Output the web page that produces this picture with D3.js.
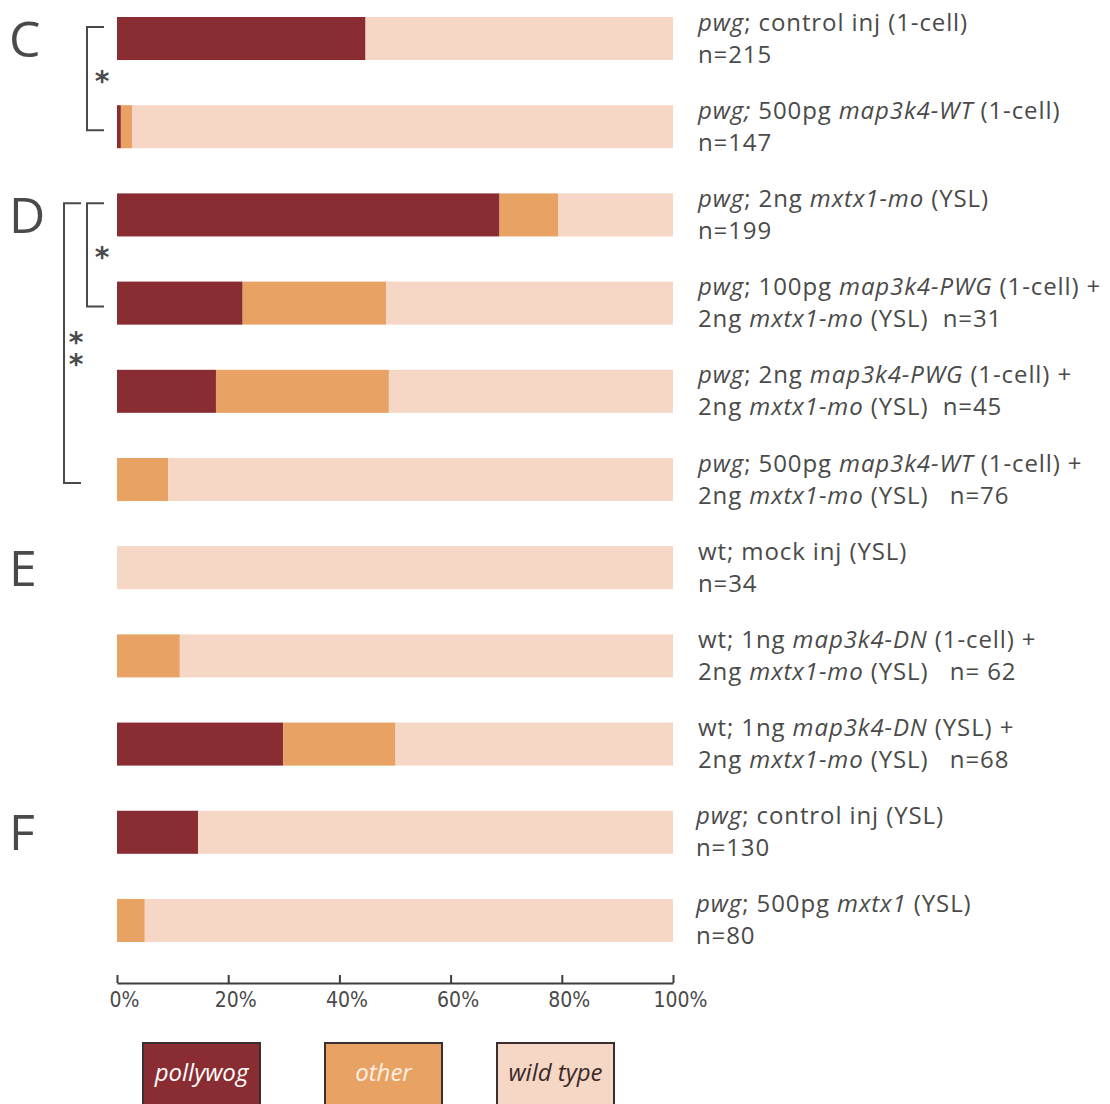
<!DOCTYPE html>
<html>
<head>
<meta charset="utf-8">
<script src="https://cdn.jsdelivr.net/npm/d3@7"></script>
<style>
  body { margin: 0; background: #fff; }
  svg text { fill: #4a4a4a; }
</style>
</head>
<body>
<svg id="chart" width="1110" height="1104"></svg>
<script>
// rows, top to bottom
const rowIds = ["C1", "C2", "D1", "D2", "D3", "D4", "E1", "E2", "E3", "F1", "F2"];

// percentages per phenotype
const pollywog = [44.7, 0.7, 68.8, 22.6, 17.8, 0, 0, 0, 29.9, 14.6, 0];
const other    = [0, 2.0, 10.6, 25.8, 31.1, 9.2, 0, 11.3, 20.2, 0, 5.0];
const wildType = [55.3, 97.3, 20.6, 51.6, 51.1, 90.8, 100, 88.7, 49.9, 85.4, 95.0];

const categories = ["pollywog", "other", "wild type"];
const colors = ["#8a2d33", "#e8a263", "#f6d6c5"];

// labels, *...* = italic
const labelLine1 = [
    "*pwg*; control inj (1-cell)",
    "*pwg;* 500pg *map3k4-WT* (1-cell)",
    "*pwg*; 2ng *mxtx1-mo* (YSL)",
    "*pwg*; 100pg *map3k4-PWG* (1-cell) +",
    "*pwg*; 2ng *map3k4-PWG* (1-cell) +",
    "*pwg*; 500pg *map3k4-WT* (1-cell) +",
    "wt; mock inj (YSL)",
    "wt; 1ng *map3k4-DN* (1-cell) +",
    "wt; 1ng *map3k4-DN* (YSL) +",
    "*pwg*; control inj (YSL)",
    "*pwg*; 500pg *mxtx1* (YSL)"
];
const labelLine2 = [
    "n=215",
    "n=147",
    "n=199",
    "2ng *mxtx1-mo* (YSL)  n=31",
    "2ng *mxtx1-mo* (YSL)  n=45",
    "2ng *mxtx1-mo* (YSL)   n=76",
    "n=34",
    "2ng *mxtx1-mo* (YSL)   n= 62",
    "2ng *mxtx1-mo* (YSL)   n=68",
    "n=130",
    "n=80"
];

// panel letters and the row they sit on
const panelLetters = ["C", "D", "E", "F"];
const panelRows = ["C1", "D1", "E1", "F1"];

// significance brackets
const bracketFrom = ["C1", "D1", "D1"];
const bracketTo = ["C2", "D2", "D4"];
const bracketLevel = [0, 0, 1];
const bracketStars = ["*", "*", "**"];

const xTicks = [0, 20, 40, 60, 80, 100];

const svg = d3.select("#chart");

const x = d3.scaleLinear().domain([0, 100]).range([117, 673]);
const y = d3.scaleBand()
    .domain(rowIds)
    .range([17, 942])
    .paddingInner(0.512)
    .paddingOuter(0);
const color = d3.scaleOrdinal().domain(categories).range(colors);

// stacked data
const table = rowIds.map((id, i) => ({
    id: id,
    "pollywog": pollywog[i],
    "other": other[i],
    "wild type": wildType[i]
}));
const series = d3.stack().keys(categories)(table);

svg.append("g")
    .selectAll("g")
    .data(series)
    .join("g")
    .attr("fill", (d) => color(d.key))
    .selectAll("rect")
    .data((d) => d)
    .join("rect")
    .attr("x", (d) => x(d[0]))
    .attr("width", (d) => x(d[1]) - x(d[0]))
    .attr("y", (d) => y(d.data.id))
    .attr("height", y.bandwidth());

// helper to write "*italic*" markup as tspans
function addRich(textSel, str) {
    const parts = str.split("*");
    parts.forEach((p, i) => {
        if (p === "") return;
        textSel.append("tspan")
            .style("font-style", i % 2 === 1 ? "italic" : "normal")
            .text(p);
    });
}

// right-hand labels
const labelFont = "'Open Sans', 'Noto Sans', sans-serif";
rowIds.forEach((id, i) => {
    const cy = y(id) + y.bandwidth() / 2;
    const lx = i >= 9 ? 696 : 698;
    [labelLine1[i], labelLine2[i]].forEach((line, k) => {
        const t = svg.append("text")
            .attr("x", lx)
            .attr("y", cy - 8 + k * 32)
            .style("font-family", labelFont)
            .style("font-size", "24px")
            .style("letter-spacing", "0.9px")
            .attr("xml:space", "preserve");
        addRich(t, line);
    });
});

// panel letters
svg.append("g")
    .selectAll("text")
    .data(panelLetters)
    .join("text")
    .attr("x", 9)
    .attr("y", (d, i) => y(panelRows[i]) + y.bandwidth() / 2 + 18)
    .style("font-family", "'Open Sans', sans-serif")
    .style("font-size", "50px")
    .text((d) => d);

// brackets
const bw = y.bandwidth();
bracketFrom.forEach((from, i) => {
    const bx = bracketLevel[i] === 0 ? 87 : 64;
    const top = y(from) + bw * 0.23;
    const bottom = y(bracketTo[i]) + bw * 0.58;
    svg.append("path")
        .attr("d", `M${bx + 17},${top}H${bx}V${bottom}H${bx + 17}`)
        .attr("fill", "none")
        .attr("stroke", "#4a4a4a")
        .attr("stroke-width", 2);
    const midY = top + (bottom - top) * 0.5;
    const sx = bx + (bracketLevel[i] === 0 ? 15 : 12);
    const starText = svg.append("text")
        .style("font-family", "'DejaVu Sans', sans-serif")
        .style("font-size", "28px")
        .style("font-weight", "bold")
        .text(bracketStars[i]);
    if (bracketStars[i].length === 1) {
        starText.attr("x", sx).attr("y", midY + 12).attr("text-anchor", "middle");
    } else {
        // stacked stars, drawn as one vertical run
        starText
            .attr("x", sx)
            .attr("y", midY + 5)
            .attr("text-anchor", "middle")
            .style("writing-mode", "vertical-rl")
            .style("text-orientation", "upright")
            .style("letter-spacing", "-11px");
    }
});

// x axis
const axisG = svg.append("g")
    .attr("transform", "translate(0,983)")
    .call(d3.axisBottom(x)
        .tickValues(xTicks)
        .tickSizeInner(-8)
        .tickSizeOuter(0)
        .tickFormat((d) => d + "%"));
axisG.select(".domain").attr("stroke", "#3d3d3d").attr("stroke-width", 2);
axisG.selectAll(".tick line").attr("stroke", "#3d3d3d").attr("stroke-width", 2);
axisG.selectAll(".tick text")
    .attr("y", 24)
    .attr("dy", 0)
    .attr("dx", 7)
    .attr("fill", "#4a4a4a")
    .style("font-family", "'Liberation Sans Narrow', 'DejaVu Sans Condensed', sans-serif")
    .style("font-size", "21px");

// legend
const legendX = [143, 325, 497];
const legendW = 117;
const legendText = ["#ffffff", "#fdf0e6", "#3a2a2a"];
const lg = svg.append("g")
    .selectAll("g")
    .data(categories)
    .join("g")
    .attr("transform", (d, i) => `translate(${legendX[i]},1043)`);
lg.append("rect")
    .attr("width", legendW)
    .attr("height", 70)
    .attr("fill", (d) => color(d))
    .attr("stroke", "#3a2f2f")
    .attr("stroke-width", 2);
lg.append("text")
    .attr("x", legendW / 2)
    .attr("y", 38)
    .attr("text-anchor", "middle")
    .style("font-family", labelFont)
    .style("font-style", "italic")
    .style("font-size", "24px")
    .style("fill", (d, i) => legendText[i])
    .text((d) => d);
</script>
</body>
</html>
